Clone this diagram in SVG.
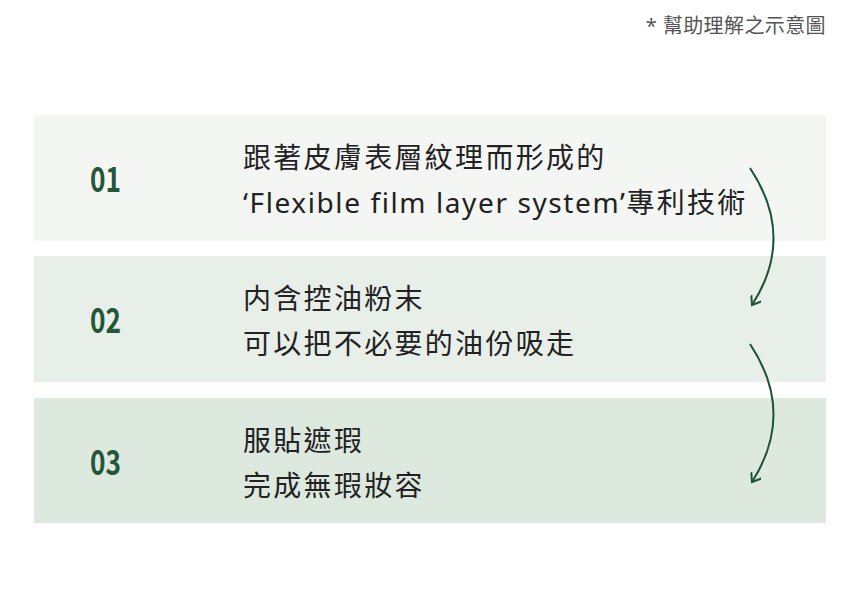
<svg xmlns="http://www.w3.org/2000/svg" width="860" height="614" viewBox="0 0 860 614">
<style>
.num{font-family:"Noto Sans CJK TC","Noto Sans",sans-serif;font-size:34px;font-weight:600;fill:#22573a}
.txt{font-family:"Noto Sans","Noto Sans CJK TC",sans-serif;font-size:28px;fill:#222;letter-spacing:2.3px}
.lat{letter-spacing:1.6px}
.note{font-family:"Noto Sans","Noto Sans CJK TC",sans-serif;font-size:20px;fill:#555;letter-spacing:0.4px}
.arc{fill:none;stroke:#1f5236;stroke-width:2}
</style>
<defs>
<marker id="ah" viewBox="0 0 12 12" refX="10" refY="6" markerWidth="12" markerHeight="12" markerUnits="userSpaceOnUse" orient="auto">
<path d="M2,0 L10,6 L2,12" fill="none" stroke="#1f5236" stroke-width="2"/>
</marker>
</defs>
<rect width="860" height="614" fill="#fff"/>
<text class="note" x="826" y="33" text-anchor="end">* 幫助理解之示意圖</text>
<g id="step1">
<rect x="34" y="115" width="792" height="126" fill="#f4f6f3"/>
<text class="num" x="90" y="192" textLength="31" lengthAdjust="spacingAndGlyphs">01</text>
<text class="txt" x="243" y="168">跟著皮膚表層紋理而形成的</text>
<text class="txt" x="243" y="213"><tspan class="lat">‘Flexible film layer system’</tspan>專利技術</text>
</g>
<g id="step2">
<rect x="34" y="256" width="792" height="126" fill="#e8eee8"/>
<text class="num" x="90" y="333" textLength="31" lengthAdjust="spacingAndGlyphs">02</text>
<text class="txt" x="243" y="309">内含控油粉末</text>
<text class="txt" x="243" y="354">可以把不必要的油份吸走</text>
</g>
<g id="step3">
<rect x="34" y="398" width="792" height="125" fill="#dde8df"/>
<text class="num" x="90" y="475" textLength="31" lengthAdjust="spacingAndGlyphs">03</text>
<text class="txt" x="243" y="451">服貼遮瑕</text>
<text class="txt" x="243" y="496">完成無瑕妝容</text>
</g>
<g id="connectors">
<path class="arc" d="M750,168 Q796,237 752,305" marker-end="url(#ah)"/>
<path class="arc" d="M750,344 Q796,413 752,482" marker-end="url(#ah)"/>
</g>
</svg>
